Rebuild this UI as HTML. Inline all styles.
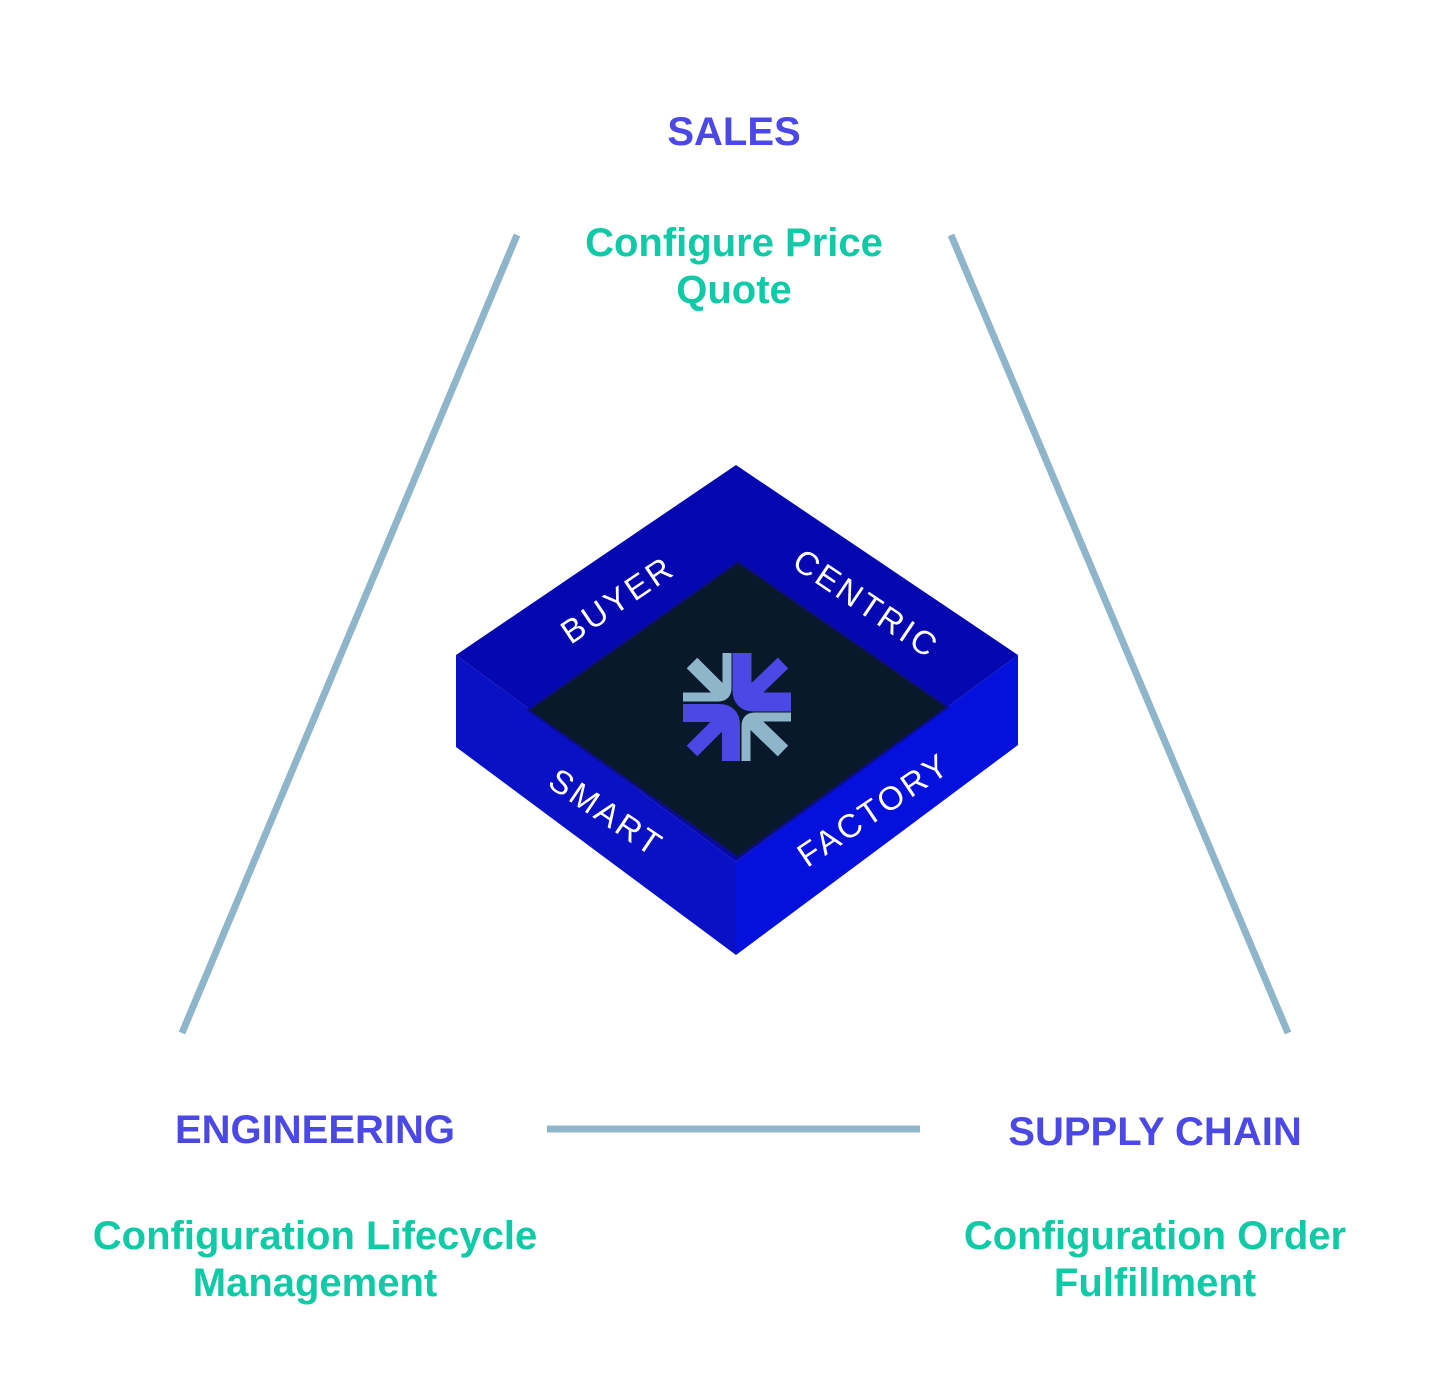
<!DOCTYPE html>
<html><head><style>
html,body{margin:0;padding:0;background:#fff;}
body{width:1456px;height:1390px;position:relative;overflow:hidden;font-family:"Liberation Sans",sans-serif;}
.t{position:absolute;text-align:center;font-weight:bold;}
.h{color:#4b48e6;font-size:40px;}
.s{color:#10c9a6;font-size:40px;line-height:47px;}
</style></head><body>
<svg width="1456" height="1390" style="position:absolute;left:0;top:0">
<g stroke="#8fb5cb" stroke-width="7">
<line x1="517" y1="235" x2="182" y2="1033"/>
<line x1="951" y1="235" x2="1288" y2="1033"/>
<line x1="547" y1="1129" x2="920" y2="1129"/>
</g>
<polygon points="456,655 736,862 736,955 456,747" fill="#0a10c4"/>
<polygon points="736,862 1018,655 1018,745 736,955" fill="#0510dc"/>
<polygon points="736,465 1018,655 736,862 456,655" fill="#0508b0"/>
<polygon points="738,560 950,707 738,860 526,710" fill="#0a0e8a"/>
<polygon points="738,563 946,707 738,856 530,710" fill="#0a182b"/>
<g fill="#fff" font-family="Liberation Sans,sans-serif" font-size="33" text-anchor="middle" letter-spacing="3">
<text transform="translate(624,609) rotate(-34)">BUYER</text>
<text transform="translate(860,613) rotate(34)">CENTRIC</text>
<text transform="translate(600,822) rotate(34)">SMART</text>
<text transform="translate(880,819) rotate(-34)">FACTORY</text>
</g>
<g fill="none" stroke-linecap="butt">
<line x1="692" y1="663" x2="722" y2="693" stroke="#8fb5cb" stroke-width="15"/>
<line x1="783" y1="751" x2="752" y2="721" stroke="#8fb5cb" stroke-width="15"/>
<line x1="783" y1="663" x2="752" y2="693" stroke="#4b48e6" stroke-width="15"/>
<line x1="692" y1="751" x2="722" y2="721" stroke="#4b48e6" stroke-width="15"/>
<path d="M727,653 V688 Q727,697 718,697 H683" stroke="#8fb5cb" stroke-width="9"/>
<path d="M742,653 V690 Q742,702 754,702 H791" stroke="#4b48e6" stroke-width="19"/>
<path d="M683,713 H719 Q731,713 731,725 V761" stroke="#4b48e6" stroke-width="18"/>
<path d="M791,717 H755 Q746,717 746,726 V761" stroke="#8fb5cb" stroke-width="9"/>
</g>
</svg>
<div class="t h" style="left:534px;width:400px;top:110px">SALES</div>
<div class="t s" style="left:434px;width:600px;top:220px">Configure Price<br>Quote</div>
<div class="t h" style="left:115px;width:400px;top:1108px">ENGINEERING</div>
<div class="t s" style="left:15px;width:600px;top:1213px">Configuration Lifecycle<br>Management</div>
<div class="t h" style="left:955px;width:400px;top:1110px">SUPPLY CHAIN</div>
<div class="t s" style="left:855px;width:600px;top:1213px">Configuration Order<br>Fulfillment</div>
</body></html>
